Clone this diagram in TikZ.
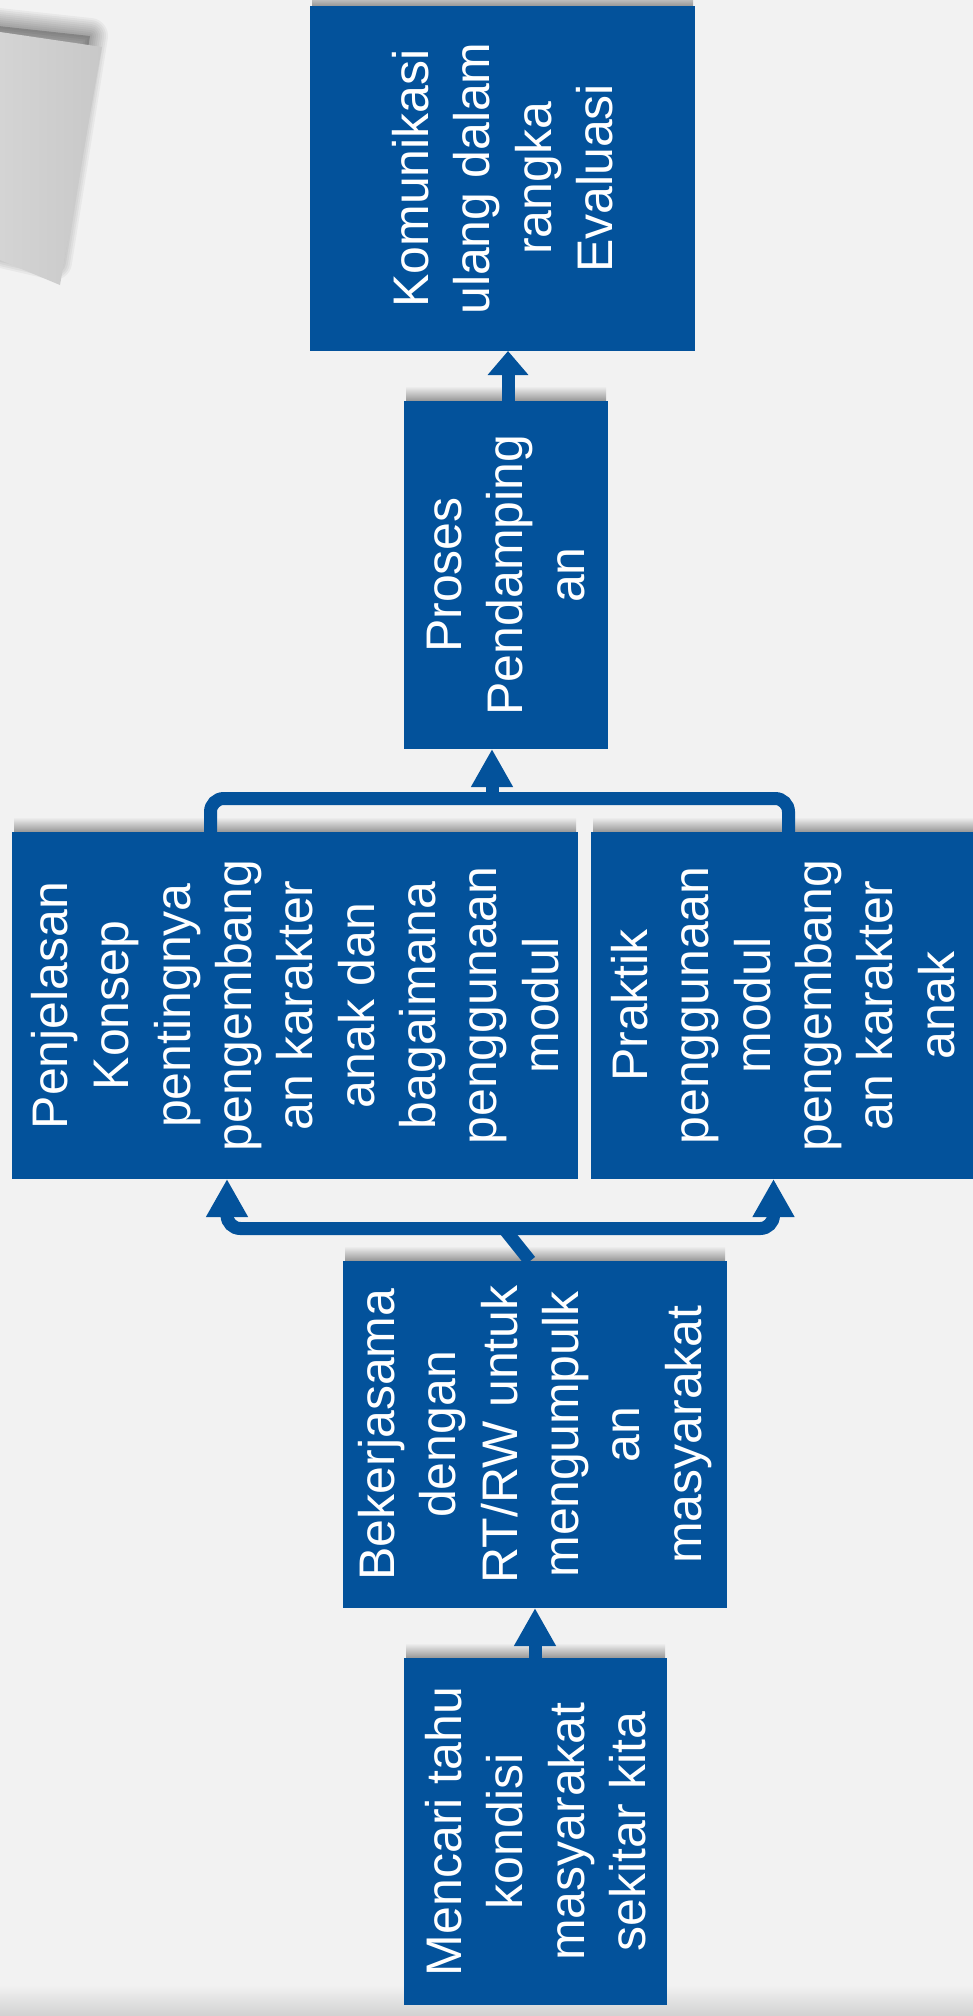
\documentclass[tikz,border=0pt]{standalone}
\usepackage{fontspec}
\setmainfont{Liberation Sans}
\usetikzlibrary{arrows.meta,calc}
\definecolor{boxblue}{RGB}{3,82,155}
\definecolor{bgc}{RGB}{242,242,242}
\definecolor{shd}{RGB}{150,150,150}
\definecolor{paperA}{RGB}{212,212,212}
\definecolor{paperB}{RGB}{200,200,200}
\tikzset{
  box/.style={fill=boxblue, inner sep=0pt, outer sep=0pt, draw=none},
  txt/.style={text=white, rotate=90, align=center, inner sep=0pt,
              font=\fontsize{37.5pt}{46pt}\selectfont},
  conn/.style={draw=boxblue, line width=9.75pt},
  tipbig/.style={-{Triangle[length=28.5pt,width=29.5pt]}},
  tipsmall/.style={-{Triangle[length=18pt,width=29.5pt]}},
  boxshadow/.style={top color=bgc, bottom color=shd, draw=none},
}
\begin{document}
\begin{tikzpicture}[x=0.75pt,y=-0.75pt]
\useasboundingbox (0,0) rectangle (973,2016);
% background
\fill[bgc] (0,0) rectangle (973,2016);
\shade[top color=bgc, bottom color=black!18] (0,1985) rectangle (973,2016);
% paper in the corner with soft shadow
\foreach \w in {36,32,...,4}{
  \draw[black, opacity=0.04, line width=\w*0.75pt, line join=round]
    (-20,24) -- (90,36) -- (54,262) -- (-20,245) -- cycle;
}
\fill[black, opacity=0.2] (-20,24) -- (90,36) -- (54,262) -- (-20,245) -- cycle;
\shade[left color=paperA, right color=paperB, draw=none]
  (0,32) -- (102,47) -- (60,285) -- (0,260) -- cycle;

% box shadows (above each box)
\shade[boxshadow] (312,-9) rectangle (693,6);
\shade[boxshadow] (406,386) rectangle (606,401);
\shade[boxshadow] (14,817) rectangle (576,832);
\shade[boxshadow] (593,817) rectangle (973,832);
\shade[boxshadow] (345,1246) rectangle (725,1261);
\shade[boxshadow] (406,1643) rectangle (665,1658);

% boxes
\node[box, minimum width=288.75pt, minimum height=258.75pt] (K) at (502.5,178.5) {};
\node[box, minimum width=153pt,    minimum height=261pt]    (P) at (506,575) {};
\node[box, minimum width=424.5pt,  minimum height=260.25pt] (J) at (295,1005.5) {};
\node[box, minimum width=288pt,    minimum height=260.25pt] (R) at (783,1005.5) {};
\node[box, minimum width=288pt,    minimum height=260.25pt] (B) at (535,1434.5) {};
\node[box, minimum width=197.25pt, minimum height=260.25pt] (M) at (535.5,1831.5) {};

% texts
\node[txt] (Kt) at (K.center) {Komunikasi\\ulang dalam\\rangka\\Evaluasi};
\node[txt] (Pt) at (P.center) {Proses\\Pendamping\\an};
\node[txt] (Jt) at (J.center) {Penjelasan\\Konsep\\pentingnya\\pengembang\\an karakter\\anak dan\\bagaimana\\penggunaan\\modul};
\node[txt] (Rt) at (R.center) {Praktik\\penggunaan\\modul\\pengembang\\an karakter\\anak};
\node[txt] (Bt) at (B.center) {Bekerjasama\\dengan\\RT/RW untuk\\mengumpulk\\an\\masyarakat};
\node[txt] (Mt) at (M.center) {Mencari tahu\\kondisi\\masyarakat\\sekitar kita};

% helper coordinates
\coordinate (ul) at (210.5,798.5);
\coordinate (ur) at (788.5,798.5);
\coordinate (um) at (492,798.5);
\coordinate (ll) at (227,1228.5);
\coordinate (lr) at (773.5,1228.5);
\coordinate (lm) at (504,1228.5);
\coordinate (bd) at (530,1261);
\coordinate (pk) at (508,0);
\coordinate (mb) at (535,0);

% connectors
\draw[conn, tipsmall] (P.north -| pk) -- (K.south -| pk);
\draw[conn, rounded corners=10pt] (J.north -| ul) |- (ur) -- (R.north -| ur);
\draw[conn, tipbig] (um) -- (P.south -| um);
\draw[conn, rounded corners=10pt, {Triangle[length=28.5pt,width=29.5pt]}-{Triangle[length=28.5pt,width=29.5pt]}]
  (J.south -| ll) |- (lr) -- (R.south -| lr);
\draw[conn] (bd) -- (lm);
\draw[conn, tipbig] (M.north -| mb) -- (B.south -| mb);
\end{tikzpicture}
\end{document}
